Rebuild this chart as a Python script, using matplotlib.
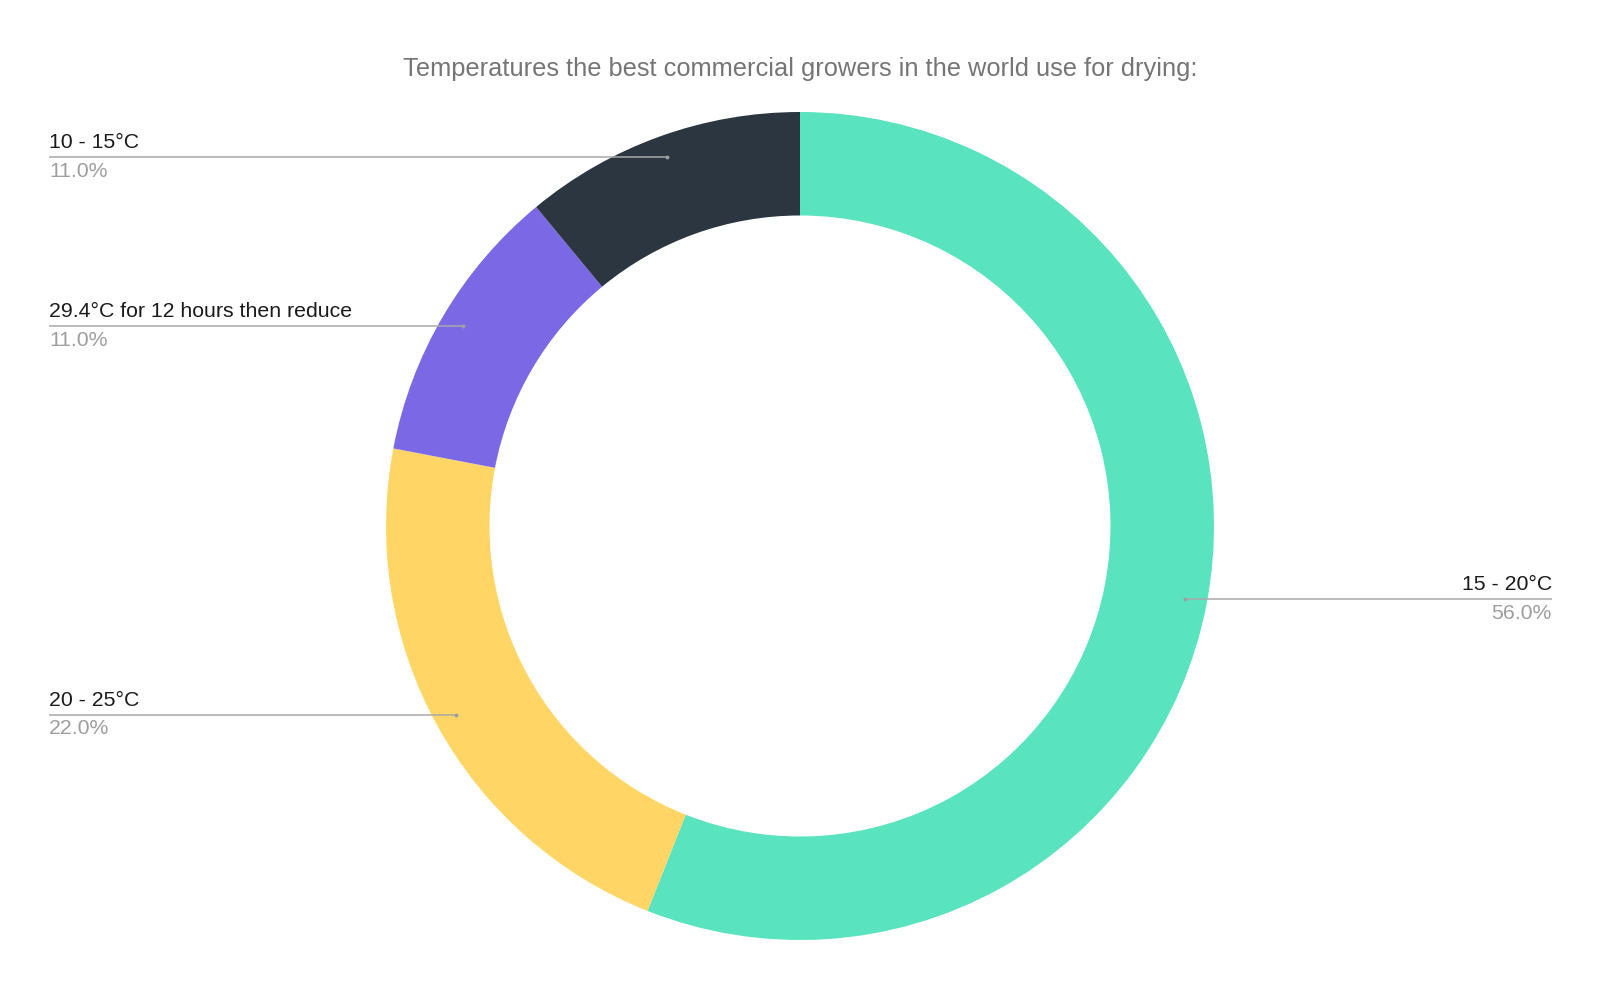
import matplotlib
matplotlib.use("Agg")
import matplotlib.pyplot as plt
import numpy as np

title = "Temperatures the best commercial growers in the world use for drying:"
categories = ["15 - 20°C", "20 - 25°C", "29.4°C for 12 hours then reduce", "10 - 15°C"]
values = [56.0, 22.0, 11.0, 11.0]
colors = ["#5ae3bf", "#ffd666", "#7a68e5", "#2c3641"]

W, H = 1600, 990
fig = plt.figure(figsize=(W / 100, H / 100), dpi=100)
ax = fig.add_axes([0, 0, 1, 1])
ax.set_xlim(0, W)
ax.set_ylim(0, H)
ax.set_aspect("equal")
ax.axis("off")

plt.rcParams["font.family"] = ["Liberation Sans", "DejaVu Sans"]

cx, cy, R = 800, H - 526, 414
wedges, _ = ax.pie(values, colors=colors, startangle=90, counterclock=False,
                   center=(cx, cy), radius=R,
                   wedgeprops=dict(width=R * 0.25, linewidth=0))
ax.set_xlim(0, W)
ax.set_ylim(0, H)

total = sum(values)
for w, cat, v in zip(wedges, categories, values):
    mid = np.deg2rad((w.theta1 + w.theta2) / 2)
    px = cx + 0.947 * R * np.cos(mid)
    py = cy + 0.947 * R * np.sin(mid)
    if np.cos(mid) >= 0:
        lx, ha = 1552, "right"
    else:
        lx, ha = 49, "left"
    ax.plot([px, lx], [py, py], color="#a8a8a8", lw=1.1, solid_capstyle="butt")
    ax.plot([px], [py], marker="o", ms=1.8, color="#9e9e9e")
    ax.text(lx, py + 14.5, cat, ha=ha, va="center", fontsize=15.3, color="#1a1a1a")
    ax.text(lx, py - 14, f"{v / total * 100:.1f}%", ha=ha, va="center",
            fontsize=15.3, color="#9e9e9e")

ax.text(800, H - 69, title, ha="center", va="center", fontsize=18.3, color="#757575")

fig.savefig("out.png", dpi=100, facecolor="white")
